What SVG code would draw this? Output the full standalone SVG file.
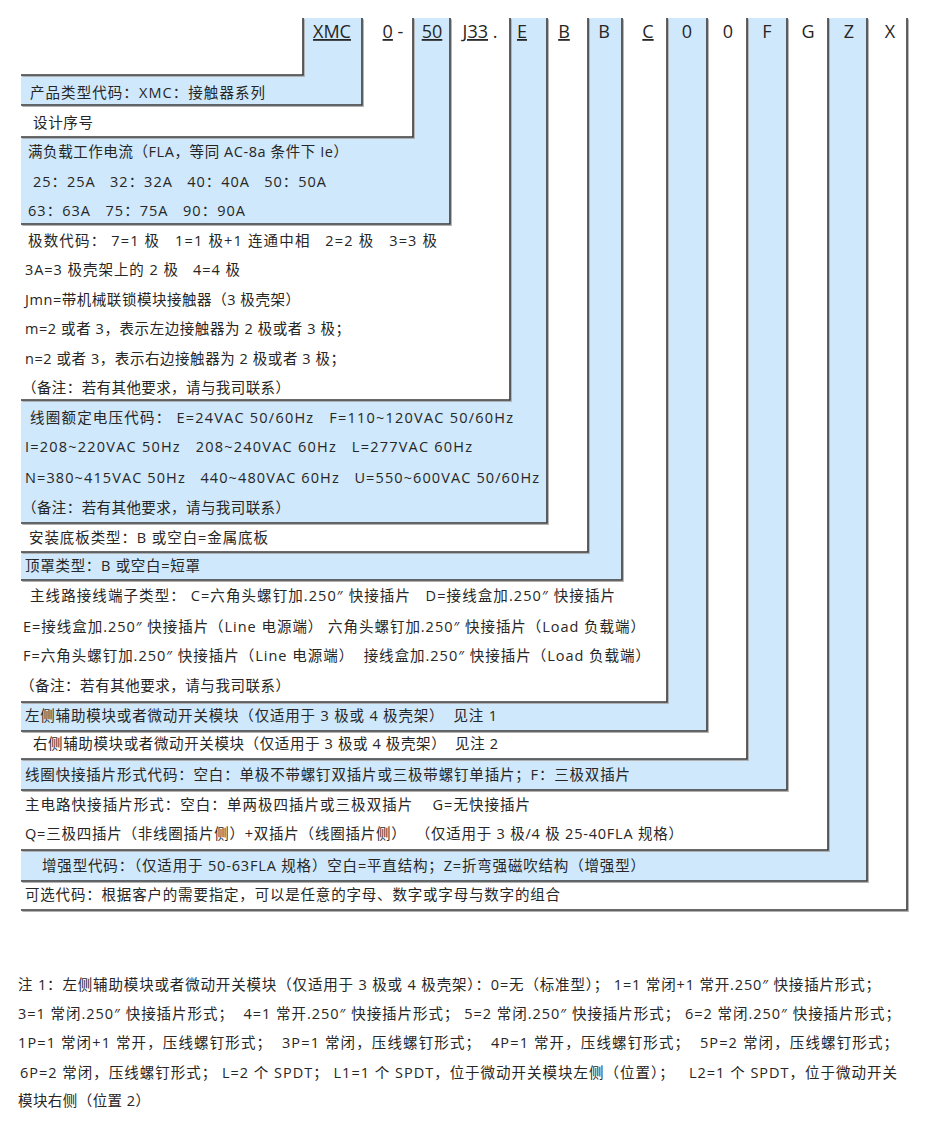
<svg xmlns="http://www.w3.org/2000/svg" width="931" height="1122" viewBox="0 0 931 1122">
<style>
.bg{fill:#ffffff}
.b{fill:#cfe8fb}
.w{fill:#ffffff}
.t{font-family:"Open Sans","Noto Sans CJK SC",sans-serif;font-size:14.5px;fill:#262626}
.h{font-family:"Open Sans","Noto Sans",sans-serif;font-size:18px;fill:#262626;text-anchor:middle}
.u{text-decoration:underline}
.ln{fill:none;stroke:#3a3a3a;stroke-width:1.6}
.sh{fill:none;stroke:#b0b0b0;stroke-width:1.2}
</style>
<rect class="bg" x="0" y="0" width="931" height="1122"/>

<g id="n1-xmc">
<path class="b" d="M303,18 H362 V105 H21 V75 H303 Z"/>
<text class="h u" x="332" y="38">XMC</text>
<text class="t" x="30" y="98" textLength="235" lengthAdjust="spacing">产品类型代码：XMC：接触器系列</text>
</g>
<g id="n2-design">
<path class="w" d="M362,18 H413 V137 H21 V105 H362 Z"/>
<text class="h" x="393" y="38"><tspan class="u">0</tspan> -</text>
<text class="t" x="33" y="128" textLength="60" lengthAdjust="spacing">设计序号</text>
</g>
<g id="n3-fla">
<path class="b" d="M413,18 H450 V224 H21 V137 H413 Z"/>
<text class="h u" x="432" y="38">50</text>
<text class="t" x="28" y="157" textLength="320" lengthAdjust="spacing">满负载工作电流（FLA，等同 AC-8a 条件下 Ie）</text>
<text class="t" x="33" y="187" textLength="293" lengthAdjust="spacing" xml:space="preserve">25：25A   32：32A   40：40A   50：50A</text>
<text class="t" x="28" y="216" textLength="217" lengthAdjust="spacing" xml:space="preserve">63：63A   75：75A   90：90A</text>
</g>
<g id="n4-poles">
<path class="w" d="M450,18 H510 V400 H21 V224 H450 Z"/>
<text class="h" x="480" y="38"><tspan class="u">J33</tspan> .</text>
<text class="t" x="28" y="246" textLength="409" lengthAdjust="spacing" xml:space="preserve">极数代码： 7=1 极   1=1 极+1 连通中相   2=2 极   3=3 极</text>
<text class="t" x="25" y="275" textLength="215" lengthAdjust="spacing" xml:space="preserve">3A=3 极壳架上的 2 极   4=4 极</text>
<text class="t" x="25" y="305" textLength="275" lengthAdjust="spacing">Jmn=带机械联锁模块接触器（3 极壳架）</text>
<text class="t" x="25" y="334" textLength="325" lengthAdjust="spacing">m=2 或者 3，表示左边接触器为 2 极或者 3 极；</text>
<text class="t" x="25" y="364" textLength="320" lengthAdjust="spacing">n=2 或者 3，表示右边接触器为 2 极或者 3 极；</text>
<text class="t" x="22" y="393" textLength="268" lengthAdjust="spacing">（备注：若有其他要求，请与我司联系）</text>
</g>
<g id="n5-coil">
<path class="b" d="M510,18 H547 V523 H21 V400 H510 Z"/>
<text class="h u" x="522" y="38">E</text>
<text class="t" x="30" y="423" textLength="483" lengthAdjust="spacing" xml:space="preserve">线圈额定电压代码： E=24VAC 50/60Hz   F=110~120VAC 50/60Hz</text>
<text class="t" x="25" y="452" textLength="447" lengthAdjust="spacing" xml:space="preserve">I=208~220VAC 50Hz   208~240VAC 60Hz   L=277VAC 60Hz</text>
<text class="t" x="25" y="483" textLength="514" lengthAdjust="spacing" xml:space="preserve">N=380~415VAC 50Hz   440~480VAC 60Hz   U=550~600VAC 50/60Hz</text>
<text class="t" x="22" y="513" textLength="268" lengthAdjust="spacing">（备注：若有其他要求，请与我司联系）</text>
</g>
<g id="n6-base">
<path class="w" d="M547,18 H588 V552 H21 V523 H547 Z"/>
<text class="h u" x="564" y="38">B</text>
<text class="t" x="29" y="543" textLength="239" lengthAdjust="spacing">安装底板类型：B 或空白=金属底板</text>
</g>
<g id="n7-cover">
<path class="b" d="M588,18 H622 V580 H21 V552 H588 Z"/>
<text class="h" x="604" y="38">B</text>
<text class="t" x="25" y="571" textLength="175" lengthAdjust="spacing">顶罩类型：B 或空白=短罩</text>
</g>
<g id="n8-terminal">
<path class="w" d="M622,18 H667 V702 H21 V580 H622 Z"/>
<text class="h u" x="648" y="38">C</text>
<text class="t" x="30" y="601" textLength="585" lengthAdjust="spacing" xml:space="preserve">主线路接线端子类型： C=六角头螺钉加.250″ 快接插片   D=接线盒加.250″ 快接插片</text>
<text class="t" x="23" y="632" textLength="622" lengthAdjust="spacing">E=接线盒加.250″ 快接插片（Line 电源端） 六角头螺钉加.250″ 快接插片（Load 负载端）</text>
<text class="t" x="23" y="661" textLength="627" lengthAdjust="spacing" xml:space="preserve">F=六角头螺钉加.250″ 快接插片（Line 电源端）  接线盒加.250″ 快接插片（Load 负载端）</text>
<text class="t" x="20" y="691" textLength="270" lengthAdjust="spacing">（备注：若有其他要求，请与我司联系）</text>
</g>
<g id="n9-left-aux">
<path class="b" d="M667,18 H707 V731 H21 V702 H667 Z"/>
<text class="h" x="687" y="38">0</text>
<text class="t" x="25" y="721" textLength="472" lengthAdjust="spacing" xml:space="preserve">左侧辅助模块或者微动开关模块（仅适用于 3 极或 4 极壳架）  见注 1</text>
</g>
<g id="n10-right-aux">
<path class="w" d="M707,18 H747 V759 H21 V731 H707 Z"/>
<text class="h" x="728" y="38">0</text>
<text class="t" x="33" y="749" textLength="465" lengthAdjust="spacing" xml:space="preserve">右侧辅助模块或者微动开关模块（仅适用于 3 极或 4 极壳架）  见注 2</text>
</g>
<g id="n11-coil-tab">
<path class="b" d="M747,18 H787 V790 H21 V759 H747 Z"/>
<text class="h" x="767" y="38">F</text>
<text class="t" x="25" y="780" textLength="605" lengthAdjust="spacing">线圈快接插片形式代码：空白：单极不带螺钉双插片或三极带螺钉单插片；F：三极双插片</text>
</g>
<g id="n12-main-tab">
<path class="w" d="M787,18 H828 V850 H21 V790 H787 Z"/>
<text class="h" x="808" y="38">G</text>
<text class="t" x="25" y="810" textLength="505" lengthAdjust="spacing" xml:space="preserve">主电路快接插片形式：空白：单两极四插片或三极双插片    G=无快接插片</text>
<text class="t" x="25" y="839" textLength="658" lengthAdjust="spacing" xml:space="preserve">Q=三极四插片（非线圈插片侧）+双插片（线圈插片侧）  （仅适用于 3 极/4 极 25-40FLA 规格）</text>
</g>
<g id="n13-enhanced">
<path class="b" d="M828,18 H867 V881 H21 V850 H828 Z"/>
<text class="h" x="849" y="38">Z</text>
<text class="t" x="42" y="871" textLength="603" lengthAdjust="spacing">增强型代码：（仅适用于 50-63FLA 规格）空白=平直结构；Z=折弯强磁吹结构（增强型）</text>
</g>
<g id="n14-optional">
<path class="w" d="M867,18 H907 V910 H21 V881 H867 Z"/>
<text class="h" x="890" y="38">X</text>
<text class="t" x="25" y="900" textLength="535" lengthAdjust="spacing">可选代码：根据客户的需要指定，可以是任意的字母、数字或字母与数字的组合</text>
</g>

<g id="connectors">
<g transform="translate(1.3,1.3)">
<path class="sh" d="M303,18 V75 H21 M362,18 V105 H21 M413,18 V137 H21 M450,18 V224 H21 M510,18 V400 H21 M547,18 V523 H21 M588,18 V552 H21 M622,18 V580 H21 M667,18 V702 H21 M707,18 V731 H21 M747,18 V759 H21 M787,18 V790 H21 M828,18 V850 H21 M867,18 V881 H21 M907,18 V910 H21"/>
</g>
<path class="ln" d="M303,18 V75 H21 M362,18 V105 H21 M413,18 V137 H21 M450,18 V224 H21 M510,18 V400 H21 M547,18 V523 H21 M588,18 V552 H21 M622,18 V580 H21 M667,18 V702 H21 M707,18 V731 H21 M747,18 V759 H21 M787,18 V790 H21 M828,18 V850 H21 M867,18 V881 H21 M907,18 V910 H21"/>
</g>

<g id="notes">
<text class="t" x="18" y="990" textLength="862" lengthAdjust="spacing">注 1：左侧辅助模块或者微动开关模块（仅适用于 3 极或 4 极壳架）：0=无（标准型）； 1=1 常闭+1 常开.250″ 快接插片形式；</text>
<text class="t" x="18" y="1019" textLength="882" lengthAdjust="spacing" xml:space="preserve">3=1 常闭.250″ 快接插片形式；  4=1 常开.250″ 快接插片形式； 5=2 常闭.250″ 快接插片形式； 6=2 常闭.250″ 快接插片形式；</text>
<text class="t" x="18" y="1048" textLength="880" lengthAdjust="spacing" xml:space="preserve">1P=1 常闭+1 常开，压线螺钉形式；  3P=1 常闭，压线螺钉形式；  4P=1 常开，压线螺钉形式；  5P=2 常闭，压线螺钉形式；</text>
<text class="t" x="20" y="1078" textLength="877" lengthAdjust="spacing" xml:space="preserve">6P=2 常闭，压线螺钉形式； L=2 个 SPDT； L1=1 个 SPDT，位于微动开关模块左侧（位置）；   L2=1 个 SPDT，位于微动开关</text>
<text class="t" x="18" y="1106" textLength="132" lengthAdjust="spacing">模块右侧（位置 2）</text>
</g>
</svg>
